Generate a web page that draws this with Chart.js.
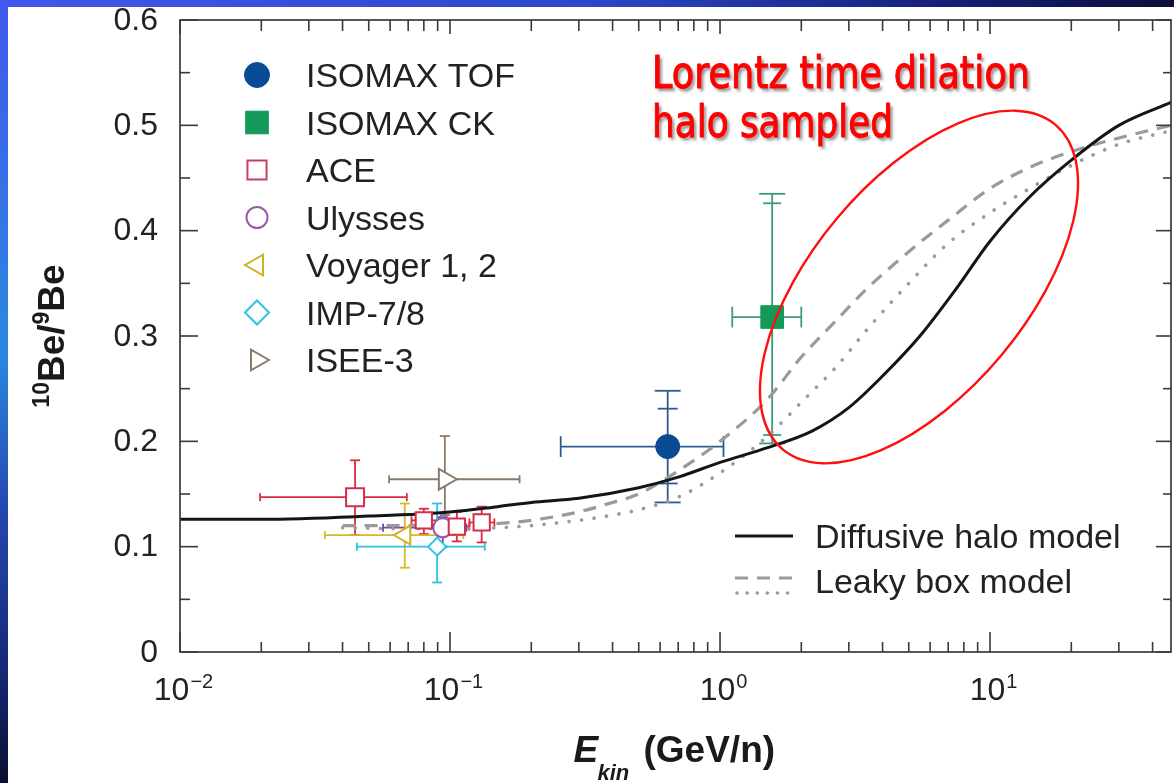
<!DOCTYPE html>
<html><head><meta charset="utf-8">
<script src="https://cdn.jsdelivr.net/npm/chart.js@4.4.1/dist/chart.umd.min.js"></script>
<style>html,body{margin:0;padding:0;background:#fff;overflow:hidden}canvas{display:block}</style>
</head><body>
<canvas id="c" width="1174" height="783"></canvas>
<script>
// ---------------- data ----------------
// model curves: energy in GeV/n, 10Be/9Be ratio
const modelEnergy   = [0.01,0.02,0.05,0.1,0.15,0.2,0.3,0.5,0.7,1.0,1.5,2.2,3.0,4.0,5.5,7.5,10,14,20,30,47];
const diffusiveHalo = [0.126,0.126,0.129,0.133,0.138,0.142,0.146,0.156,0.166,0.18,0.194,0.21,0.232,0.262,0.30,0.345,0.39,0.432,0.467,0.50,0.522];
const leakyEnergy   = [0.04,0.07,0.1,0.15,0.2,0.3,0.4,0.5,0.7,1.0,1.5,2.0,2.7,3.5,5,7,10,14,20,30,47];
const leakyDashed   = [0.12,0.12,0.12,0.122,0.125,0.133,0.142,0.15,0.172,0.2,0.24,0.28,0.315,0.345,0.38,0.41,0.44,0.46,0.475,0.488,0.50];
const leakyDotted   = [0.118,0.117,0.117,0.118,0.12,0.125,0.13,0.135,0.147,0.17,0.205,0.237,0.271,0.306,0.35,0.388,0.417,0.44,0.462,0.482,0.495];

// measurements
const isomaxTofE = [0.64],  isomaxTofR = [0.195], isomaxTofErrE = [[0.257,1.03]], isomaxTofErrR = [[0.142,0.248]], isomaxTofErrRStat = [[0.16,0.231]];
const isomaxCkE  = [1.56],  isomaxCkR  = [0.318], isomaxCkErrE  = [[1.11,2.0]],   isomaxCkErrR  = [[0.198,0.435]], isomaxCkErrRStat  = [[0.206,0.426]];
const aceE   = [0.0445,0.080,0.106,0.131];
const aceR   = [0.147,0.125,0.119,0.123];
const aceErrE = [[0.0198,0.0692],[0.072,0.090],[0.095,0.118],[0.118,0.146]];
const aceErrR = [[0.111,0.182],[0.112,0.136],[0.105,0.133],[0.104,0.138]];
const ulyssesE = [0.094], ulyssesR = [0.118], ulyssesErrE = [[0.0565,0.115]], ulyssesErrR = [[0.100,0.128]];
const voyagerE = [0.068], voyagerR = [0.111], voyagerErrE = [[0.0344,0.112]], voyagerErrR = [[0.080,0.141]];
const impE     = [0.0896], impR = [0.100],   impErrE = [[0.0452,0.1345]],  impErrR = [[0.066,0.141]];
const iseeE    = [0.0957], iseeR = [0.164],  iseeErrE = [[0.0595,0.181]],  iseeErrR = [[0.130,0.205]];

// axes
const yTickValues = [0,0.1,0.2,0.3,0.4,0.5,0.6];
const yTickLabels = ['0','0.1','0.2','0.3','0.4','0.5','0.6'];
const xTickValues = [0.01,0.1,1,10];
const xTickBase   = ['10','10','10','10'];
const xTickExp    = ['\u22122','\u22121','0','1'];
const xMin = 0.01, xMax = 46.8, yMin = 0, yMax = 0.6;

const pts = (xs, ys) => xs.map((x,i)=>({x:x, y:ys[i]}));

// ---------------- datasets ----------------
const markerSets = [
  {label:'ISOMAX TOF', data:pts(isomaxTofE,isomaxTofR), pointStyle:'circle', pointRadius:12, backgroundColor:'#0b4a94', borderColor:'#0b4a94', borderWidth:1,
   errX:isomaxTofErrE, errY:isomaxTofErrR, errYStat:isomaxTofErrRStat, errColor:'#2c5c8e', cap:13, capStat:10, legR:12.5},
  {label:'ISOMAX CK', data:pts(isomaxCkE,isomaxCkR), pointStyle:'rect', pointRadius:16, backgroundColor:'#139a58', borderColor:'#139a58', borderWidth:1,
   errX:isomaxCkErrE, errY:isomaxCkErrR, errYStat:isomaxCkErrRStat, errColor:'#3c9a78', cap:13, capStat:9, legR:16},
  {label:'ACE', data:pts(aceE,aceR), pointStyle:'rect', pointRadius:[12.7,11.5,11.5,11.5], backgroundColor:'#ffffff', borderColor:'#d0304a', borderWidth:2,
   errX:aceErrE, errY:aceErrR, errColor:'#dc2a40', cap:5, legR:13.5, legColor:'#c44060'},
  {label:'Ulysses', data:pts(ulyssesE,ulyssesR), pointStyle:'circle', pointRadius:9.5, backgroundColor:'#ffffff', borderColor:'#9a5aa8', borderWidth:2,
   errX:ulyssesErrE, errY:ulyssesErrR, errColor:'#7a3cb0', cap:5, legR:10.5},
  {label:'Voyager 1, 2', data:pts(voyagerE,voyagerR), pointStyle:'triangle', pointRotation:-90, pointRadius:11, backgroundColor:'#ffffff', borderColor:'#d2b020', borderWidth:2,
   errX:voyagerErrE, errY:voyagerErrR, errColor:'#d8b828', cap:5, legR:12},
  {label:'IMP-7/8', data:pts(impE,impR), pointStyle:'rectRot', pointRadius:9, backgroundColor:'#ffffff', borderColor:'#2ec2e6', borderWidth:2,
   errX:impErrE, errY:impErrR, errColor:'#2ec2e6', cap:5, legR:12},
  {label:'ISEE-3', data:pts(iseeE,iseeR), pointStyle:'triangle', pointRotation:90, pointRadius:12, backgroundColor:'#ffffff', borderColor:'#8a7a6a', borderWidth:2,
   errX:iseeErrE, errY:iseeErrR, errColor:'#8a7a6a', cap:5, legR:12}
];
const lineSets = [
  {label:'Diffusive halo model', data:pts(modelEnergy,diffusiveHalo), showLine:true, pointRadius:0, borderColor:'#151515', borderWidth:3, cubicInterpolationMode:'monotone'},
  {label:'Leaky box model', data:pts(leakyEnergy,leakyDashed), showLine:true, pointRadius:0, borderColor:'#9a9a9a', borderWidth:3.2, borderDash:[13,9], cubicInterpolationMode:'monotone'},
  {label:'Leaky box model (dotted)', data:pts(leakyEnergy,leakyDotted), showLine:true, pointRadius:0, borderColor:'#9a9a9a', borderWidth:3.6, borderDash:[0.1,12.5], borderCapStyle:'round', cubicInterpolationMode:'monotone'}
];

// ---------------- drawing helpers ----------------
function seg(ctx,x1,y1,x2,y2){ctx.beginPath();ctx.moveTo(x1,y1);ctx.lineTo(x2,y2);ctx.stroke();}

const decor = {
  id:'decor',
  beforeDraw(chart){
    const ctx = chart.ctx, W = chart.width, H = chart.height;
    ctx.save();
    ctx.fillStyle = '#ffffff'; ctx.fillRect(0,0,W,H);
    let g = ctx.createLinearGradient(0,0,0,H);
    g.addColorStop(0,'#4058ec'); g.addColorStop(0.3,'#3478e4'); g.addColorStop(0.45,'#2a88e0');
    g.addColorStop(0.65,'#2448b0'); g.addColorStop(0.85,'#162a78'); g.addColorStop(1,'#0a0f30');
    ctx.fillStyle = g; ctx.fillRect(0,0,8,H);
    g = ctx.createLinearGradient(0,0,W,0);
    g.addColorStop(0,'#4058ec'); g.addColorStop(0.5,'#2c48c8'); g.addColorStop(0.8,'#15207a'); g.addColorStop(1,'#0c0f3a');
    ctx.fillStyle = g; ctx.fillRect(0,0,W,7);
    ctx.restore();
  },
  beforeDatasetsDraw(chart){
    const ctx = chart.ctx, xs = chart.scales.x, ys = chart.scales.y;
    ctx.save();
    ctx.lineWidth = 1.8;
    chart.data.datasets.forEach(ds=>{
      if(!ds.errX) return;
      ctx.strokeStyle = ds.errColor;
      ds.data.forEach((p,j)=>{
        const px = xs.getPixelForValue(p.x), py = ys.getPixelForValue(p.y);
        const x1 = xs.getPixelForValue(ds.errX[j][0]), x2 = xs.getPixelForValue(ds.errX[j][1]);
        const y1 = ys.getPixelForValue(ds.errY[j][0]), y2 = ys.getPixelForValue(ds.errY[j][1]);
        const c = ds.cap;
        seg(ctx,x1,py,x2,py); seg(ctx,x1,py-c*0.8,x1,py+c*0.8); seg(ctx,x2,py-c*0.8,x2,py+c*0.8);
        seg(ctx,px,y1,px,y2); seg(ctx,px-c,y1,px+c,y1); seg(ctx,px-c,y2,px+c,y2);
        if(ds.errYStat){
          const s1 = ys.getPixelForValue(ds.errYStat[j][0]), s2 = ys.getPixelForValue(ds.errYStat[j][1]);
          seg(ctx,px-ds.capStat,s1,px+ds.capStat,s1); seg(ctx,px-ds.capStat,s2,px+ds.capStat,s2);
        }
      });
    });
    ctx.restore();
  },
  afterDatasetsDraw(chart){
    const ctx = chart.ctx, xs = chart.scales.x, ys = chart.scales.y, a = chart.chartArea;
    ctx.save();
    // frame
    ctx.strokeStyle = '#3a3a3a'; ctx.lineWidth = 1.7;
    ctx.strokeRect(a.left, a.top, a.right-a.left, a.bottom-a.top);
    // y ticks (inward)
    ctx.lineWidth = 1.6;
    for(let i=0;i<yTickValues.length;i++){
      const y = ys.getPixelForValue(yTickValues[i]);
      seg(ctx,a.left,y,a.left+18,y); seg(ctx,a.right,y,a.right-15,y);
      if(i<yTickValues.length-1){
        const ym = ys.getPixelForValue((yTickValues[i]+yTickValues[i+1])/2);
        seg(ctx,a.left,ym,a.left+10,ym); seg(ctx,a.right,ym,a.right-8,ym);
      }
    }
    // x ticks (inward)
    for(let d=0; d<=xTickValues.length; d++){
      const base = xMin*Math.pow(10,d);
      for(let m=1;m<=9;m++){
        const v = base*m; if(v>xMax) break;
        const x = xs.getPixelForValue(v);
        if(m===1){ seg(ctx,x,a.bottom,x,a.bottom-20); seg(ctx,x,a.top,x,a.top+14); }
        else { seg(ctx,x,a.bottom,x,a.bottom-10); seg(ctx,x,a.top,x,a.top+11); }
      }
    }
    // y tick labels
    ctx.fillStyle = '#222'; ctx.font = '32px "Liberation Sans", Arial, sans-serif';
    ctx.textAlign = 'right'; ctx.textBaseline = 'middle';
    yTickValues.forEach((v,i)=>ctx.fillText(yTickLabels[i], a.left-22, ys.getPixelForValue(v)+1));
    // x tick labels with superscript exponent
    ctx.textAlign = 'left'; ctx.textBaseline = 'alphabetic';
    xTickValues.forEach((v,i)=>{
      const x = xs.getPixelForValue(v);
      ctx.font = '32px "Liberation Sans", Arial, sans-serif';
      const wb = ctx.measureText(xTickBase[i]).width;
      ctx.font = '20px "Liberation Sans", Arial, sans-serif';
      const we = ctx.measureText(xTickExp[i]).width;
      const x0 = x - (wb+we)/2 + 3;
      ctx.font = '32px "Liberation Sans", Arial, sans-serif';
      ctx.fillText(xTickBase[i], x0, 700);
      ctx.font = '20px "Liberation Sans", Arial, sans-serif';
      ctx.fillText(xTickExp[i], x0+wb+1, 688);
    });
    // x axis title
    const cx = (a.left+a.right)/2;
    ctx.fillStyle = '#1a1a1a';
    ctx.font = 'italic bold 37px "Liberation Sans", Arial, sans-serif';
    ctx.fillText('E', cx-102, 762);
    ctx.font = 'italic bold 22px "Liberation Sans", Arial, sans-serif';
    ctx.fillText('kin', cx-78, 780);
    ctx.font = 'bold 37px "Liberation Sans", Arial, sans-serif';
    ctx.fillText('(GeV/n)', cx-32, 762);
    // y axis title (rotated)
    ctx.save();
    ctx.translate(51, (a.top+a.bottom)/2);
    ctx.rotate(-Math.PI/2);
    const fMain = 'bold 37px "Liberation Sans", Arial, sans-serif', fSup = 'bold 23px "Liberation Sans", Arial, sans-serif';
    const parts = [['10',1],['Be/',0],['9',1],['Be',0]];
    let tot = 0;
    parts.forEach(p=>{ ctx.font = p[1] ? fSup : fMain; p.push(ctx.measureText(p[0]).width); tot += p[2]; });
    let px = -tot/2;
    parts.forEach(p=>{ ctx.font = p[1] ? fSup : fMain; ctx.fillText(p[0], px, p[1] ? -2 : 13); px += p[2]; });
    ctx.restore();

    // marker legend
    const dp = Chart.helpers.drawPoint;
    const legTop = 75, legStep = 47.5;
    chart.data.datasets.forEach((ds,i)=>{
      if(!ds.errX) return;
      const y = legTop + i*legStep;
      ctx.save();
      ctx.fillStyle = ds.backgroundColor; ctx.strokeStyle = ds.legColor || ds.borderColor; ctx.lineWidth = ds.borderWidth;
      dp(ctx, {pointStyle:ds.pointStyle, rotation:ds.pointRotation||0, radius:ds.legR, borderWidth:ds.borderWidth}, 257, y);
      ctx.restore();
      ctx.fillStyle = '#222'; ctx.font = '34px "Liberation Sans", Arial, sans-serif';
      ctx.textAlign = 'left'; ctx.textBaseline = 'middle';
      ctx.fillText(ds.label, 306, y+3);
    });
    // model legend
    ctx.lineWidth = 3.2; ctx.strokeStyle = '#151515';
    seg(ctx,735,536,793,536);
    ctx.strokeStyle = '#9a9a9a'; ctx.setLineDash([13,9]); ctx.lineWidth = 3.2;
    seg(ctx,735,578,793,578);
    ctx.setLineDash([0.1,10]); ctx.lineCap = 'round'; ctx.lineWidth = 3.6;
    seg(ctx,737,593,793,593);
    ctx.setLineDash([]); ctx.lineCap = 'butt';
    ctx.fillStyle = '#222'; ctx.font = '34px "Liberation Sans", Arial, sans-serif';
    ctx.textBaseline = 'middle';
    ctx.fillText(lineSets[0].label, 815, 539);
    ctx.fillText(lineSets[1].label, 815, 584);

    // annotation: red ellipse
    ctx.strokeStyle = '#ff1010'; ctx.lineWidth = 2.4;
    ctx.beginPath(); ctx.ellipse(919, 287, 212, 107, -50*Math.PI/180, 0, 2*Math.PI); ctx.stroke();
    // annotation: red text with shadow
    const lines = [['Lorentz time dilation',88,378],['halo sampled',137,241]];
    lines.forEach(l=>{
      ctx.save();
      ctx.font = '45px "DejaVu Sans", Verdana, sans-serif';
      const w = ctx.measureText(l[0]).width;
      ctx.translate(652, l[1]); ctx.scale(l[2]/w, 1);
      ctx.shadowColor = 'rgba(0,0,0,0.45)'; ctx.shadowOffsetX = 2.5; ctx.shadowOffsetY = 2.5; ctx.shadowBlur = 3;
      ctx.fillStyle = '#ff0000'; ctx.textAlign = 'left'; ctx.textBaseline = 'alphabetic';
      ctx.fillText(l[0], 0, 0);
      ctx.shadowColor = 'rgba(0,0,0,0)';
      ctx.strokeStyle = '#ff0000'; ctx.lineWidth = 1.1; ctx.lineJoin = 'round';
      ctx.strokeText(l[0], 0, 0);
      ctx.restore();
    });
    ctx.restore();
  }
};

new Chart(document.getElementById('c'), {
  type:'scatter',
  data:{datasets: markerSets.concat(lineSets)},
  options:{
    responsive:false, animation:false, devicePixelRatio:1,
    layout:{autoPadding:false, padding:{left:180, top:20, right:3, bottom:131}},
    plugins:{legend:{display:false}, tooltip:{enabled:false}},
    events:[],
    scales:{
      x:{type:'logarithmic', min:xMin, max:xMax, display:false},
      y:{type:'linear', min:yMin, max:yMax, display:false}
    }
  },
  plugins:[decor]
});
</script>
</body></html>
